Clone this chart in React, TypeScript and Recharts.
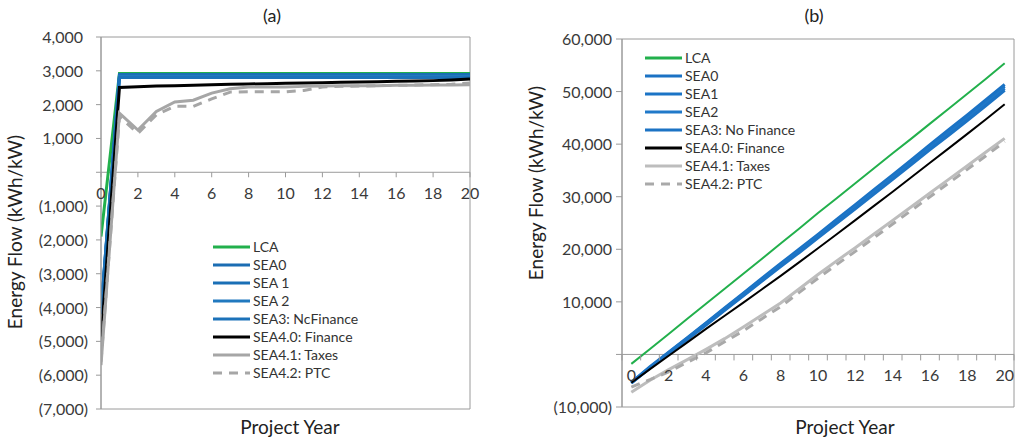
import React from 'react'
import { LineChart, Line, XAxis, YAxis, ReferenceLine, ReferenceDot, ReferenceArea, Legend } from 'recharts'

/* ── Energy flow per kW, annual (a) and cumulative (b) ───────────── */

const FONT = 'Lato, "Open Sans", sans-serif'
const AXIS = '#9a9a9a'
const TEXT = '#3a3a3a'

const YEARS = [0, 1, 2, 3, 4, 5, 6, 7, 8, 9, 10, 11, 12, 13, 14, 15, 16, 17, 18, 19, 20]
const X_LABELS = [0, 2, 4, 6, 8, 10, 12, 14, 16, 18, 20]

// (a) annual energy flow
const A_LCA = [-1900, 2920, 2920, 2920, 2920, 2920, 2920, 2920, 2920, 2920, 2920, 2920, 2920, 2920, 2920, 2920, 2920, 2920, 2920, 2920, 2920]
const A_SEA0 = [-4100, 2890, 2890, 2890, 2890, 2890, 2890, 2890, 2890, 2890, 2890, 2890, 2890, 2890, 2890, 2890, 2890, 2890, 2890, 2890, 2890]
const A_SEA1 = [-4100, 2860, 2860, 2860, 2860, 2860, 2860, 2860, 2860, 2860, 2860, 2860, 2860, 2860, 2860, 2860, 2860, 2860, 2860, 2860, 2860]
const A_SEA2 = [-4150, 2830, 2830, 2830, 2830, 2830, 2830, 2830, 2830, 2830, 2830, 2830, 2830, 2830, 2830, 2830, 2830, 2830, 2830, 2830, 2830]
const A_SEA3 = [-4200, 2800, 2800, 2800, 2800, 2800, 2800, 2800, 2800, 2800, 2800, 2800, 2800, 2800, 2800, 2800, 2800, 2800, 2800, 2800, 2800]
const A_SEA40 = [-5000, 2510, 2530, 2550, 2560, 2570, 2590, 2600, 2610, 2620, 2630, 2640, 2650, 2660, 2670, 2680, 2690, 2700, 2710, 2730, 2760]
const A_SEA41 = [-5700, 1750, 1250, 1800, 2080, 2130, 2340, 2470, 2520, 2520, 2520, 2540, 2550, 2560, 2560, 2560, 2570, 2570, 2580, 2580, 2590]
const A_SEA42 = [-5600, 1650, 1150, 1700, 1950, 1950, 2170, 2370, 2380, 2380, 2380, 2420, 2520, 2540, 2550, 2560, 2570, 2580, 2590, 2600, 2640]
const A_TICKS = [-7000, -6000, -5000, -4000, -3000, -2000, -1000, 0, 1000, 2000, 3000, 4000]

// (b) cumulative energy flow
const B_LCA = [-1800, 1050, 3900, 6800, 9650, 12500, 15350, 18200, 21100, 23950, 26900, 29700, 32550, 35400, 38250, 41050, 43900, 46750, 49600, 52450, 55400]
const B_SEA0 = [-5300, -2350, 450, 3200, 6000, 8850, 11650, 14500, 17300, 20050, 22850, 25700, 28500, 31350, 34150, 37000, 39900, 42750, 45550, 48450, 51350]
const B_SEA1 = [-5350, -2450, 350, 3100, 5900, 8700, 11500, 14300, 17100, 19850, 22650, 25450, 28250, 31050, 33850, 36700, 39600, 42400, 45200, 48100, 51000]
const B_SEA2 = [-5400, -2500, 250, 2950, 5750, 8550, 11300, 14100, 16900, 19600, 22400, 25150, 27950, 30750, 33550, 36350, 39250, 42000, 44800, 47700, 50600]
const B_SEA3 = [-5450, -2600, 150, 2850, 5600, 8400, 11150, 13950, 16700, 19400, 22200, 24950, 27700, 30500, 33300, 36100, 38950, 41700, 44500, 47350, 50250]
const B_SEA40 = [-5400, -2800, -250, 2300, 4850, 7350, 9850, 12400, 14950, 17550, 20200, 22850, 25550, 28250, 30950, 33700, 36450, 39200, 41950, 44750, 47600]
const B_SEA41 = [-7200, -4900, -2900, -1000, 950, 3000, 5200, 7500, 9800, 12500, 15200, 17800, 20300, 22900, 25500, 28100, 30700, 33300, 35900, 38500, 41100]
const B_SEA42 = [-6200, -4800, -3300, -1500, 300, 2400, 4500, 6800, 9100, 11800, 14500, 17100, 19600, 22200, 24800, 27400, 30000, 32600, 35200, 37800, 40500]
const B_TICKS = [-10000, 0, 10000, 20000, 30000, 40000, 50000, 60000]

const dataA = YEARS.map((year, i) => ({
  year,
  lca: A_LCA[i], sea0: A_SEA0[i], sea1: A_SEA1[i], sea2: A_SEA2[i], sea3: A_SEA3[i],
  sea40: A_SEA40[i], sea41: A_SEA41[i], sea42: A_SEA42[i],
}))

const dataB = YEARS.map((year, i) => ({
  year,
  lca: B_LCA[i], sea0: B_SEA0[i], sea1: B_SEA1[i], sea2: B_SEA2[i], sea3: B_SEA3[i],
  sea40: B_SEA40[i], sea41: B_SEA41[i], sea42: B_SEA42[i],
}))

interface SeriesDef {
  key: string
  name: string
  color: string
  width: number
  dash?: string
}

const SERIES_A: SeriesDef[] = [
  { key: 'lca', name: 'LCA', color: '#22b04c', width: 3 },
  { key: 'sea0', name: 'SEA0', color: '#1b6db3', width: 3 },
  { key: 'sea1', name: 'SEA 1', color: '#1a6fb6', width: 3 },
  { key: 'sea2', name: 'SEA 2', color: '#2179bf', width: 3 },
  { key: 'sea3', name: 'SEA3: NcFinance', color: '#1c72b9', width: 3 },
  { key: 'sea40', name: 'SEA4.0: Finance', color: '#000000', width: 3 },
  { key: 'sea41', name: 'SEA4.1: Taxes', color: '#a6a6a6', width: 3 },
  { key: 'sea42', name: 'SEA4.2: PTC', color: '#a6a6a6', width: 3, dash: '9 7' },
]

const SERIES_B: SeriesDef[] = [
  { key: 'lca', name: 'LCA', color: '#22b04c', width: 2 },
  { key: 'sea0', name: 'SEA0', color: '#1b72c4', width: 3 },
  { key: 'sea1', name: 'SEA1', color: '#1b74c6', width: 3 },
  { key: 'sea2', name: 'SEA2', color: '#2079c9', width: 3 },
  { key: 'sea3', name: 'SEA3: No Finance', color: '#1c73c4', width: 3 },
  { key: 'sea40', name: 'SEA4.0: Finance', color: '#000000', width: 2 },
  { key: 'sea41', name: 'SEA4.1: Taxes', color: '#bdbdbd', width: 3 },
  { key: 'sea42', name: 'SEA4.2: PTC', color: '#a9a9a9', width: 3, dash: '9 7' },
]

function accounting(v: number): string {
  if (v === 0) return ''
  const s = Math.abs(v).toLocaleString('en-US')
  return v < 0 ? `(${s})` : s
}

function YTick({ x, y, payload, shift }: any) {
  const v = payload.value as number
  return (
    <text x={x - (v > 0 ? shift : 0)} y={y} dy={6} textAnchor="end" fontSize={16} fill={TEXT} fontFamily={FONT}>
      {accounting(v)}
    </text>
  )
}

// x tick label + mark drawn on the zero line
function xLabelShape(label: number, dy: number) {
  return ({ cx, cy }: any) => (
    <text x={cx} y={cy + dy} textAnchor="middle" fontSize={16} fill={TEXT} fontFamily={FONT}>
      {label}
    </text>
  )
}

function xMarkShape(len: number) {
  return ({ cx, cy }: any) => <line x1={cx} x2={cx} y1={cy} y2={cy + len} stroke={AXIS} strokeWidth={1} />
}

function legendContent(series: SeriesDef[]) {
  return () => (
    <div style={{ fontFamily: FONT, fontSize: 14, color: '#333', lineHeight: '18px' }}>
      {series.map((s) => (
        <div key={s.key} style={{ display: 'flex', alignItems: 'center', height: 18, whiteSpace: 'nowrap' }}>
          <svg width={37} height={6} style={{ marginRight: 3 }}>
            <line x1={0} x2={37} y1={3} y2={3} stroke={s.color} strokeWidth={3} strokeDasharray={s.dash} />
          </svg>
          <span>{s.name}</span>
        </div>
      ))}
    </div>
  )
}

function renderLines(series: SeriesDef[]) {
  return series.map((s) => (
    <Line
      key={s.key}
      type="linear"
      dataKey={s.key}
      name={s.name}
      stroke={s.color}
      strokeWidth={s.width}
      strokeDasharray={s.dash}
      dot={false}
      activeDot={false}
      isAnimationActive={false}
    />
  ))
}

function ChartA() {
  return (
    <LineChart width={512} height={441} data={dataA} margin={{ top: 37, right: 42, bottom: 32, left: 0 }}>
      <XAxis dataKey="year" type="number" domain={[0, 20]} hide allowDataOverflow />
      <YAxis
        width={101}
        domain={[-7000, 4000]}
        ticks={A_TICKS}
        interval={0}
        allowDataOverflow
        axisLine={{ stroke: AXIS }}
        tickLine={{ stroke: AXIS }}
        tickSize={5}
        tickMargin={8}
        tick={<YTick shift={5} />}
      />
      <ReferenceArea x1={0} x2={20} y1={-7000} y2={4000} fill="none" stroke={AXIS} />
      <ReferenceLine y={0} stroke={AXIS} />
      {X_LABELS.map((v) => (
        <ReferenceDot key={`m${v}`} x={v} y={0} r={0} ifOverflow="visible" shape={xMarkShape(5)} />
      ))}
      {X_LABELS.map((v) => (
        <ReferenceDot key={`l${v}`} x={v} y={0} r={0} ifOverflow="visible" shape={xLabelShape(v, 27)} />
      ))}
      {renderLines(SERIES_A)}
      <Legend
        layout="vertical"
        align="center"
        verticalAlign="middle"
        content={legendContent(SERIES_A)}
        wrapperStyle={{ left: 213, top: 238, width: 200 }}
      />
      <text x={272} y={22} textAnchor="middle" fontSize={18} fill="#222" fontFamily={FONT}>(a)</text>
      <text x={290} y={434} textAnchor="middle" fontSize={19} fill="#222" fontFamily={FONT}>Project Year</text>
      <text x={22} y={232} textAnchor="middle" fontSize={19} fill="#222" fontFamily={FONT} transform="rotate(-90 22 232)">
        Energy Flow (kWh/kW)
      </text>
    </LineChart>
  )
}

function ChartB() {
  const bounds = [...YEARS.map((y) => y - 0.5), 20.5]
  return (
    <LineChart width={512} height={441} data={dataB} margin={{ top: 39, right: 10, bottom: 34, left: 0 }}>
      <XAxis dataKey="year" type="number" domain={[-0.5, 20.5]} hide allowDataOverflow />
      <YAxis
        width={110}
        domain={[-10000, 60000]}
        ticks={B_TICKS}
        interval={0}
        allowDataOverflow
        axisLine={{ stroke: AXIS }}
        tickLine={{ stroke: AXIS }}
        tickSize={6}
        tickMargin={4}
        tick={<YTick shift={0} />}
      />
      <ReferenceArea x1={-0.5} x2={20.5} y1={-10000} y2={60000} fill="none" stroke={AXIS} />
      <ReferenceLine y={0} stroke={AXIS} />
      {bounds.map((v) => (
        <ReferenceDot key={`m${v}`} x={v} y={0} r={0} ifOverflow="visible" shape={xMarkShape(6)} />
      ))}
      {X_LABELS.map((v) => (
        <ReferenceDot key={`l${v}`} x={v} y={0} r={0} ifOverflow="visible" shape={xLabelShape(v, 27)} />
      ))}
      {renderLines(SERIES_B)}
      <Legend
        layout="vertical"
        align="center"
        verticalAlign="middle"
        content={legendContent(SERIES_B)}
        wrapperStyle={{ left: 133, top: 49, width: 220 }}
      />
      <text x={302} y={22} textAnchor="middle" fontSize={18} fill="#222" fontFamily={FONT}>(b)</text>
      <text x={333} y={434} textAnchor="middle" fontSize={19} fill="#222" fontFamily={FONT}>Project Year</text>
      <text x={31} y={183} textAnchor="middle" fontSize={19} fill="#222" fontFamily={FONT} transform="rotate(-90 31 183)">
        Energy Flow (kWh/kW)
      </text>
    </LineChart>
  )
}

export default function App() {
  return (
    <div style={{ position: 'fixed', left: 0, top: 0, width: 1024, height: 441, background: '#fff', display: 'flex' }}>
      <div style={{ position: 'relative', width: 512, height: 441 }}>
        <ChartA />
      </div>
      <div style={{ position: 'relative', width: 512, height: 441 }}>
        <ChartB />
      </div>
    </div>
  )
}
